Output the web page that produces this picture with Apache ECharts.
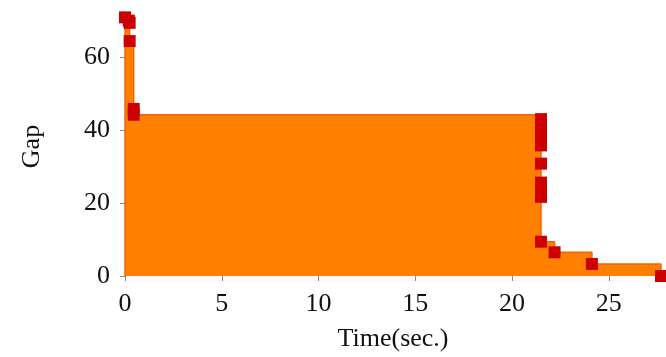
<!DOCTYPE html>
<html>
<head>
<meta charset="utf-8">
<script src="https://cdn.jsdelivr.net/npm/echarts@6/dist/echarts.min.js"></script>
<style>html,body{margin:0;padding:0;background:#fff}#c{width:666px;height:357px}</style>
</head>
<body>
<div id="c"></div>
<script>
const timeSec = [0, 0.2, 0.24, 0.24, 0.45, 0.45, 21.5, 21.5, 21.5, 21.5, 21.5, 21.5, 21.5, 21.5, 21.5, 21.5, 21.5, 21.5, 22.2, 24.13, 27.7];
const gapValues = [70.9, 70.0, 69.4, 64.4, 45.8, 44.2, 43.0, 41.6, 40.2, 38.8, 37.3, 35.8, 30.8, 25.6, 24.0, 22.5, 21.7, 9.4, 6.5, 3.3, 0];
const xTicks = [0, 5, 10, 15, 20, 25];
const yTicks = [0, 20, 40, 60];

const pts = timeSec.map((t, i) => [t, gapValues[i]]);
const font = 'Liberation Serif';
const fs = 26;
const chart = echarts.init(document.getElementById('c'), null, {renderer: 'canvas'});
chart.setOption({
  animation: false,
  grid: {left: 125, right: 5, top: 17, bottom: 80, containLabel: false},
  xAxis: {
    type: 'value', min: 0, max: 27.7,
    name: 'Time(sec.)', nameLocation: 'middle', nameGap: 50,
    nameTextStyle: {fontFamily: font, fontSize: fs, color: '#111'},
    axisLine: {show: false},
    axisTick: {show: true, length: 5, lineStyle: {color: '#888', width: 1}, customValues: xTicks},
    axisLabel: {fontFamily: font, fontSize: fs, color: '#111', margin: 15, customValues: xTicks},
    splitLine: {show: false}
  },
  yAxis: {
    type: 'value', min: 0, max: 71,
    name: 'Gap', nameLocation: 'middle', nameGap: 80, nameRotate: 90,
    nameTextStyle: {fontFamily: font, fontSize: fs, color: '#111'},
    axisLine: {show: false},
    axisTick: {show: true, length: 5, lineStyle: {color: '#888', width: 1}, customValues: yTicks},
    axisLabel: {fontFamily: font, fontSize: fs, color: '#111', margin: 15, customValues: yTicks},
    splitLine: {show: false}
  },
  series: [
    {
      type: 'line', step: 'end', data: [[timeSec[0], 0]].concat(pts),
      symbol: 'none',
      lineStyle: {color: '#f0650a', width: 1.5},
      areaStyle: {color: '#ff8000', opacity: 1},
      z: 1
    },
    {
      type: 'scatter', data: pts, symbol: 'rect', symbolSize: 12,
      itemStyle: {color: '#cc0000', opacity: 1}, clip: false, z: 3
    }
  ]
});
</script>
</body>
</html>
